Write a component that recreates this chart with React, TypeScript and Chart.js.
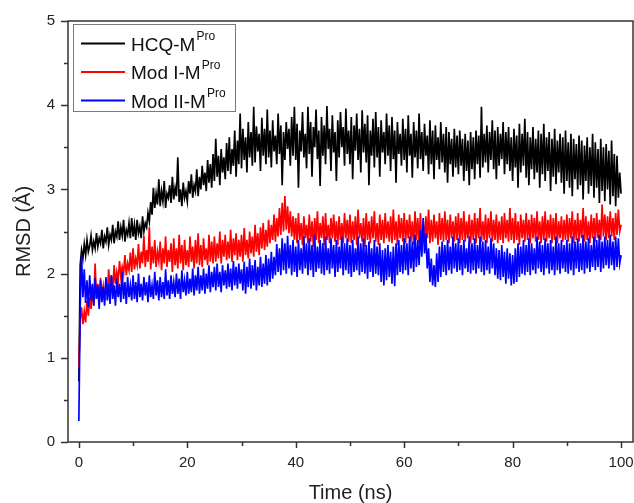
import React, { useEffect, useRef } from "react";
import { Chart, registerables } from "chart.js";

Chart.register(...registerables);

// RMSD values (Å), sampled every 0.25 ns from 0 to 100 ns
const TIME_STEP_NS = 0.25;

const HCQ_RMSD = [
  0.72, 2.10, 2.28, 2.18, 2.35, 2.22, 2.40, 2.26, 2.33, 2.45,
  2.28, 2.38, 2.30, 2.48, 2.32, 2.42, 2.36, 2.52, 2.30, 2.44,
  2.38, 2.55, 2.34, 2.46, 2.40, 2.58, 2.36, 2.50, 2.44, 2.62,
  2.40, 2.55, 2.45, 2.64, 2.38, 2.52, 2.46, 2.60, 2.42, 2.66,
  2.44, 2.58, 2.40, 2.64, 2.48, 2.56, 2.42, 2.68, 2.50, 2.60,
  2.55, 2.72, 2.62, 2.85, 2.70, 3.02, 2.78, 2.95, 2.82, 3.12,
  2.80, 2.98, 2.86, 3.10, 2.78, 2.95, 2.90, 3.05, 2.84, 3.15,
  2.88, 3.02, 2.92, 3.38, 2.85, 3.00, 2.80, 3.08, 2.90, 2.98,
  2.86, 3.10, 2.95, 3.18, 2.90, 3.05, 2.98, 3.24, 2.92, 3.15,
  3.00, 3.28, 3.05, 3.20, 2.98, 3.35, 3.08, 3.30, 3.02, 3.42,
  3.10, 3.60, 3.15, 3.40, 3.05, 3.48, 3.20, 3.38, 3.12, 3.55,
  3.22, 3.62, 3.18, 3.48, 3.28, 3.70, 3.15, 3.58, 3.30, 3.90,
  3.25, 3.72, 3.35, 3.62, 3.20, 3.80, 3.38, 3.68, 3.28, 3.98,
  3.32, 3.75, 3.45, 3.66, 3.22, 3.85, 3.40, 3.72, 3.30, 3.95,
  3.38, 3.70, 3.26, 3.82, 3.45, 3.64, 3.30, 3.90, 3.42, 3.76,
  3.05, 3.68, 3.35, 3.80, 3.48, 3.72, 3.28, 3.86, 3.40, 3.98,
  3.35, 3.78, 3.02, 3.70, 3.45, 3.92, 3.38, 3.66, 3.25, 3.98,
  3.42, 3.80, 3.15, 3.74, 3.50, 3.95, 3.36, 3.70, 3.04, 3.86,
  3.40, 3.76, 3.30, 3.99, 3.48, 3.72, 3.22, 3.88, 3.44, 3.68,
  3.10, 3.82, 3.38, 3.92, 3.50, 3.74, 3.28, 3.96, 3.42, 3.70,
  3.30, 3.86, 3.12, 3.76, 3.46, 3.90, 3.35, 3.72, 3.20, 3.94,
  3.44, 3.78, 3.32, 3.88, 3.05, 3.70, 3.40, 3.84, 3.26, 3.92,
  3.38, 3.74, 3.15, 3.82, 3.44, 3.68, 3.30, 3.90, 3.40, 3.76,
  3.22, 3.86, 3.36, 3.70, 3.08, 3.80, 3.42, 3.66, 3.28, 3.84,
  3.35, 3.72, 3.20, 3.88, 3.40, 3.66, 3.14, 3.80, 3.38, 3.70,
  3.25, 3.90, 3.36, 3.68, 3.22, 3.78, 3.40, 3.64, 3.18, 3.82,
  3.30, 3.70, 3.12, 3.76, 3.35, 3.62, 3.24, 3.80, 3.32, 3.66,
  3.20, 3.74, 3.08, 3.68, 3.30, 3.60, 3.15, 3.72, 3.26, 3.64,
  3.18, 3.70, 3.28, 3.60, 3.10, 3.66, 3.22, 3.58, 3.05, 3.68,
  3.24, 3.62, 3.12, 3.70, 3.30, 3.64, 3.14, 3.98, 3.26, 3.66,
  3.32, 3.76, 3.20, 3.68, 3.35, 3.82, 3.24, 3.70, 3.12, 3.74,
  3.28, 3.66, 3.36, 3.80, 3.18, 3.68, 3.30, 3.74, 3.22, 3.62,
  3.10, 3.72, 3.26, 3.64, 3.02, 3.78, 3.20, 3.66, 3.28, 3.84,
  3.14, 3.68, 3.05, 3.62, 3.24, 3.74, 3.12, 3.60, 3.20, 3.70,
  3.02, 3.66, 3.18, 3.78, 3.10, 3.62, 3.22, 3.68, 2.98, 3.60,
  3.15, 3.72, 3.06, 3.58, 3.20, 3.66, 3.08, 3.62, 2.95, 3.70,
  3.10, 3.56, 3.02, 3.66, 2.92, 3.60, 3.12, 3.54, 3.00, 3.64,
  3.05, 3.58, 2.88, 3.52, 3.10, 3.62, 2.95, 3.50, 3.04, 3.66,
  2.90, 3.56, 3.02, 3.48, 2.84, 3.60, 2.98, 3.50, 2.86, 3.54,
  3.00, 3.46, 2.82, 3.58, 2.92, 3.42, 2.80, 3.40, 2.90, 3.20,
  2.95,
];

const MOD1_RMSD = [
  0.88, 1.45, 1.60, 1.40, 1.55, 1.42, 1.68, 1.50, 1.72, 1.58,
  1.80, 1.62, 2.12, 1.70, 1.88, 1.66, 1.95, 1.74, 1.85, 1.68,
  1.92, 1.76, 2.05, 1.82, 1.98, 1.78, 2.10, 1.88, 2.02, 1.92,
  2.15, 1.96, 2.08, 2.00, 2.22, 1.98, 2.12, 2.04, 2.25, 2.02,
  2.30, 2.05, 2.18, 2.10, 2.35, 2.06, 2.26, 2.12, 2.45, 2.08,
  2.28, 2.14, 2.55, 2.05, 2.32, 2.12, 2.40, 2.08, 2.26, 2.15,
  2.38, 2.04, 2.30, 2.12, 2.44, 2.08, 2.28, 2.14, 2.36, 2.02,
  2.42, 2.10, 2.30, 2.06, 2.46, 2.12, 2.34, 2.04, 2.40, 2.10,
  2.28, 2.08, 2.44, 2.14, 2.32, 2.06, 2.40, 2.12, 2.48, 2.10,
  2.34, 2.08, 2.42, 2.16, 2.30, 2.10, 2.46, 2.14, 2.38, 2.12,
  2.44, 2.14, 2.36, 2.18, 2.50, 2.12, 2.40, 2.20, 2.46, 2.16,
  2.38, 2.18, 2.52, 2.14, 2.42, 2.22, 2.48, 2.16, 2.40, 2.20,
  2.46, 2.14, 2.54, 2.22, 2.40, 2.18, 2.50, 2.24, 2.44, 2.20,
  2.58, 2.26, 2.48, 2.22, 2.55, 2.30, 2.60, 2.28, 2.52, 2.32,
  2.64, 2.36, 2.58, 2.40, 2.70, 2.38, 2.66, 2.44, 2.78, 2.46,
  2.84, 2.50, 2.92, 2.52, 2.80, 2.48, 2.74, 2.44, 2.68, 2.40,
  2.66, 2.36, 2.72, 2.40, 2.60, 2.34, 2.68, 2.42, 2.58, 2.36,
  2.70, 2.38, 2.62, 2.32, 2.66, 2.40, 2.74, 2.36, 2.60, 2.42,
  2.68, 2.34, 2.72, 2.40, 2.58, 2.36, 2.66, 2.42, 2.70, 2.38,
  2.62, 2.34, 2.68, 2.40, 2.60, 2.36, 2.72, 2.42, 2.64, 2.38,
  2.70, 2.36, 2.62, 2.40, 2.68, 2.34, 2.76, 2.42, 2.60, 2.38,
  2.66, 2.32, 2.72, 2.40, 2.62, 2.36, 2.68, 2.42, 2.74, 2.38,
  2.60, 2.34, 2.70, 2.40, 2.64, 2.36, 2.72, 2.42, 2.62, 2.38,
  2.68, 2.36, 2.76, 2.40, 2.62, 2.34, 2.70, 2.42, 2.66, 2.38,
  2.72, 2.36, 2.64, 2.42, 2.70, 2.38, 2.62, 2.34, 2.74, 2.40,
  2.66, 2.36, 2.72, 2.30, 2.62, 2.38, 2.68, 2.42, 2.76, 2.36,
  2.64, 2.38, 2.70, 2.42, 2.62, 2.34, 2.72, 2.40, 2.66, 2.38,
  2.74, 2.40, 2.64, 2.36, 2.70, 2.42, 2.62, 2.38, 2.68, 2.40,
  2.72, 2.36, 2.66, 2.40, 2.74, 2.38, 2.62, 2.42, 2.70, 2.36,
  2.64, 2.40, 2.72, 2.36, 2.66, 2.42, 2.78, 2.38, 2.62, 2.40,
  2.70, 2.36, 2.66, 2.42, 2.74, 2.38, 2.64, 2.40, 2.70, 2.36,
  2.62, 2.40, 2.68, 2.36, 2.72, 2.42, 2.64, 2.38, 2.78, 2.40,
  2.66, 2.36, 2.72, 2.40, 2.62, 2.34, 2.70, 2.42, 2.64, 2.38,
  2.72, 2.40, 2.64, 2.36, 2.70, 2.42, 2.66, 2.38, 2.74, 2.40,
  2.62, 2.36, 2.68, 2.40, 2.74, 2.38, 2.64, 2.42, 2.70, 2.36,
  2.66, 2.40, 2.72, 2.36, 2.62, 2.42, 2.68, 2.38, 2.64, 2.40,
  2.70, 2.38, 2.66, 2.42, 2.74, 2.36, 2.64, 2.40, 2.72, 2.38,
  2.64, 2.42, 2.78, 2.38, 2.68, 2.40, 2.62, 2.36, 2.70, 2.42,
  2.66, 2.38, 2.72, 2.42, 2.64, 2.40, 2.82, 2.44, 2.70, 2.40,
  2.68, 2.42, 2.74, 2.44, 2.66, 2.40, 2.72, 2.46, 2.76, 2.50,
  2.58,
];

const MOD2_RMSD = [
  0.25, 1.60, 2.22, 1.72, 2.05, 1.65, 1.92, 1.60, 1.98, 1.68,
  1.88, 1.62, 1.95, 1.70, 1.86, 1.58, 1.92, 1.66, 1.84, 1.62,
  1.96, 1.68, 1.88, 1.64, 1.98, 1.70, 1.86, 1.62, 1.94, 1.72,
  1.88, 1.66, 2.02, 1.70, 1.90, 1.64, 1.96, 1.72, 1.86, 1.68,
  1.98, 1.70, 1.90, 1.66, 2.00, 1.72, 1.88, 1.68, 1.96, 1.74,
  1.90, 1.66, 1.98, 1.72, 1.86, 1.70, 2.02, 1.74, 1.92, 1.68,
  1.96, 1.72, 1.90, 1.70, 2.05, 1.74, 1.92, 1.70, 1.98, 1.76,
  1.90, 1.72, 2.00, 1.76, 1.94, 1.70, 2.04, 1.78, 1.92, 1.74,
  2.02, 1.76, 1.94, 1.78, 2.06, 1.74, 1.98, 1.80, 2.08, 1.76,
  1.98, 1.80, 2.06, 1.76, 2.00, 1.82, 2.10, 1.78, 2.02, 1.84,
  2.08, 1.80, 2.12, 1.84, 2.02, 1.78, 2.10, 1.86, 2.04, 1.82,
  2.12, 1.84, 2.06, 1.80, 2.15, 1.86, 2.08, 1.82, 2.12, 1.88,
  2.05, 1.80, 2.14, 1.76, 2.08, 1.84, 2.18, 1.82, 2.10, 1.86,
  2.16, 1.80, 2.08, 1.86, 2.20, 1.84, 2.12, 1.88, 2.22, 1.86,
  2.18, 1.90, 2.26, 1.94, 2.20, 1.98, 2.35, 2.02, 2.30, 1.98,
  2.42, 2.04, 2.36, 2.00, 2.45, 2.06, 2.34, 1.98, 2.40, 2.02,
  2.32, 1.96, 2.40, 2.04, 2.30, 2.00, 2.44, 2.06, 2.36, 1.98,
  2.42, 2.04, 2.34, 1.96, 2.46, 2.02, 2.32, 2.06, 2.40, 2.00,
  2.36, 1.98, 2.44, 2.04, 2.30, 2.00, 2.42, 2.06, 2.34, 1.96,
  2.40, 2.02, 2.32, 2.06, 2.44, 1.98, 2.36, 2.04, 2.42, 2.00,
  2.34, 1.96, 2.40, 2.02, 2.30, 2.04, 2.44, 1.98, 2.36, 2.02,
  2.42, 2.00, 2.34, 1.94, 2.38, 2.02, 2.30, 1.96, 2.40, 2.00,
  2.32, 1.98, 2.36, 1.90, 2.28, 1.86, 2.30, 1.92, 2.34, 1.96,
  2.26, 1.88, 2.32, 1.85, 2.36, 1.98, 2.40, 2.02, 2.34, 2.00,
  2.42, 2.04, 2.36, 1.98, 2.44, 2.06, 2.38, 2.02, 2.46, 2.08,
  2.40, 2.10, 2.52, 2.20, 2.66, 2.24, 2.48, 2.06, 2.30, 1.90,
  2.18, 1.86, 2.10, 1.84, 2.24, 1.90, 2.32, 1.96, 2.38, 2.02,
  2.34, 1.98, 2.40, 2.04, 2.32, 2.00, 2.44, 2.06, 2.36, 2.02,
  2.42, 2.04, 2.34, 1.98, 2.40, 2.06, 2.30, 2.02, 2.44, 2.00,
  2.36, 2.04, 2.42, 2.00, 2.34, 2.06, 2.44, 2.02, 2.38, 1.98,
  2.40, 2.04, 2.32, 2.00, 2.42, 2.06, 2.36, 1.98, 2.30, 1.94,
  2.28, 1.92, 2.34, 1.96, 2.26, 1.88, 2.30, 1.94, 2.24, 1.86,
  2.22, 1.88, 2.30, 1.90, 2.36, 1.96, 2.32, 2.00, 2.40, 1.98,
  2.34, 2.02, 2.42, 1.98, 2.36, 2.04, 2.30, 2.00, 2.44, 2.06,
  2.38, 2.02, 2.34, 1.98, 2.42, 2.06, 2.36, 2.00, 2.40, 2.04,
  2.32, 1.98, 2.44, 2.04, 2.36, 2.00, 2.40, 2.06, 2.34, 2.02,
  2.40, 2.00, 2.36, 2.04, 2.44, 1.98, 2.38, 2.06, 2.42, 2.02,
  2.36, 2.04, 2.46, 2.00, 2.38, 2.06, 2.42, 2.02, 2.34, 2.08,
  2.44, 2.04, 2.40, 2.08, 2.46, 2.02, 2.38, 2.06, 2.44, 2.10,
  2.40, 2.06, 2.46, 2.10, 2.38, 2.04, 2.44, 2.08, 2.42, 2.12,
  2.22,
];

const SERIES_LABELS = ["HCQ-M", "Mod I-M", "Mod II-M"];
const SERIES_SUPERSCRIPT = "Pro";
const SERIES_COLORS = ["#000000", "#ff0000", "#0000ff"];

const X_MAJOR_TICKS = [0, 20, 40, 60, 80, 100];
const X_MINOR_TICKS = [10, 30, 50, 70, 90];
const Y_MAJOR_TICKS = [0, 1, 2, 3, 4, 5];
const Y_MINOR_TICKS = [0.5, 1.5, 2.5, 3.5, 4.5];

const FONT = '"Liberation Sans", Arial, sans-serif';

const toPoints = (vals: number[]) =>
  vals.map((v, i) => ({ x: i * TIME_STEP_NS, y: v }));

const decorPlugin = {
  id: "decor",
  afterDraw(chart: any) {
    const { ctx, chartArea: a, scales } = chart;
    const xs = scales.x;
    const ys = scales.y;
    ctx.save();
    ctx.strokeStyle = "#333";
    ctx.lineWidth = 1.5;
    ctx.strokeRect(a.left, a.top, a.right - a.left, a.bottom - a.top);
    const seg = (x1: number, y1: number, x2: number, y2: number) => {
      ctx.beginPath();
      ctx.moveTo(x1, y1);
      ctx.lineTo(x2, y2);
      ctx.stroke();
    };
    X_MAJOR_TICKS.forEach((v) => {
      const p = Math.round(xs.getPixelForValue(v)) + 0.5;
      seg(p, a.bottom, p, a.bottom + 6);
    });
    X_MINOR_TICKS.forEach((v) => {
      const p = Math.round(xs.getPixelForValue(v)) + 0.5;
      seg(p, a.bottom, p, a.bottom + 4);
    });
    Y_MAJOR_TICKS.forEach((v) => {
      const p = Math.round(ys.getPixelForValue(v)) + 0.5;
      seg(a.left - 7, p, a.left, p);
    });
    Y_MINOR_TICKS.forEach((v) => {
      const p = Math.round(ys.getPixelForValue(v)) + 0.5;
      seg(a.left - 4, p, a.left, p);
    });

    // legend
    const bx = 73.5, by = 24.5, bw = 162, bh = 87;
    ctx.fillStyle = "#ffffff";
    ctx.fillRect(bx, by, bw, bh);
    ctx.strokeStyle = "#7a7a7a";
    ctx.lineWidth = 1;
    ctx.strokeRect(bx, by, bw, bh);
    const rows = [43.5, 72, 100.5];
    SERIES_LABELS.forEach((lab, i) => {
      const cy = rows[i];
      ctx.strokeStyle = SERIES_COLORS[i];
      ctx.lineWidth = 2;
      seg(81, cy, 125, cy);
      ctx.fillStyle = "#111";
      ctx.textBaseline = "alphabetic";
      ctx.textAlign = "left";
      ctx.font = `19px ${FONT}`;
      ctx.fillText(lab, 131, cy + 7);
      const w = ctx.measureText(lab).width;
      ctx.font = `12px ${FONT}`;
      ctx.fillText(SERIES_SUPERSCRIPT, 131 + w + 1, cy - 3.5);
    });
    ctx.restore();
  },
};

export default function App() {
  const ref = useRef<HTMLCanvasElement | null>(null);
  useEffect(() => {
    if (!ref.current) return;
    const seriesVals = [HCQ_RMSD, MOD1_RMSD, MOD2_RMSD];
    const chart = new Chart(ref.current, {
      type: "line",
      data: {
        datasets: seriesVals.map((vals, i) => ({
          label: SERIES_LABELS[i] + SERIES_SUPERSCRIPT,
          data: toPoints(vals),
          borderColor: SERIES_COLORS[i],
          backgroundColor: SERIES_COLORS[i],
          borderWidth: 1.7,
          pointRadius: 0,
          tension: 0,
          fill: false,
          order: 3 - i,
        })),
      },
      options: {
        animation: false,
        responsive: false,
        events: [],
        layout: { padding: { top: 21, right: 1, left: 0, bottom: 0 } },
        plugins: {
          legend: { display: false },
          tooltip: { enabled: false },
        },
        scales: {
          x: {
            type: "linear",
            min: -2,
            max: 102.2,
            grid: { display: false, drawTicks: false },
            border: { display: false },
            afterBuildTicks: (s: any) => {
              s.ticks = X_MAJOR_TICKS.map((v) => ({ value: v }));
            },
            afterFit: (s: any) => {
              s.height = 61;
              s.paddingLeft = 0;
              s.paddingRight = 0;
            },
            ticks: {
              padding: 12,
              maxRotation: 0,
              autoSkip: false,
              color: "#222",
              font: { size: 15, family: FONT },
            },
            title: {
              display: true,
              text: "Time (ns)",
              color: "#222",
              font: { size: 20, family: FONT, lineHeight: 1 },
              padding: { top: 0, bottom: 0 },
            },
          },
          y: {
            type: "linear",
            min: 0,
            max: 5,
            grid: { display: false, drawTicks: false },
            border: { display: false },
            afterBuildTicks: (s: any) => {
              s.ticks = Y_MAJOR_TICKS.map((v) => ({ value: v }));
            },
            afterFit: (s: any) => {
              s.width = 68;
              s.paddingTop = 0;
              s.paddingBottom = 0;
            },
            ticks: {
              padding: 13,
              autoSkip: false,
              color: "#222",
              font: { size: 15, family: FONT },
            },
            title: {
              display: true,
              text: "RMSD (Å)",
              color: "#222",
              font: { size: 20, family: FONT, lineHeight: 1 },
              padding: { top: 14, bottom: 0 },
            },
          },
        },
      },
      plugins: [decorPlugin],
    });
    return () => chart.destroy();
  }, []);
  return (
    <div style={{ position: "absolute", left: 0, top: 0, width: 634, height: 503, background: "#fff" }}>
      <canvas ref={ref} width={634} height={503} style={{ display: "block" }} />
    </div>
  );
}
